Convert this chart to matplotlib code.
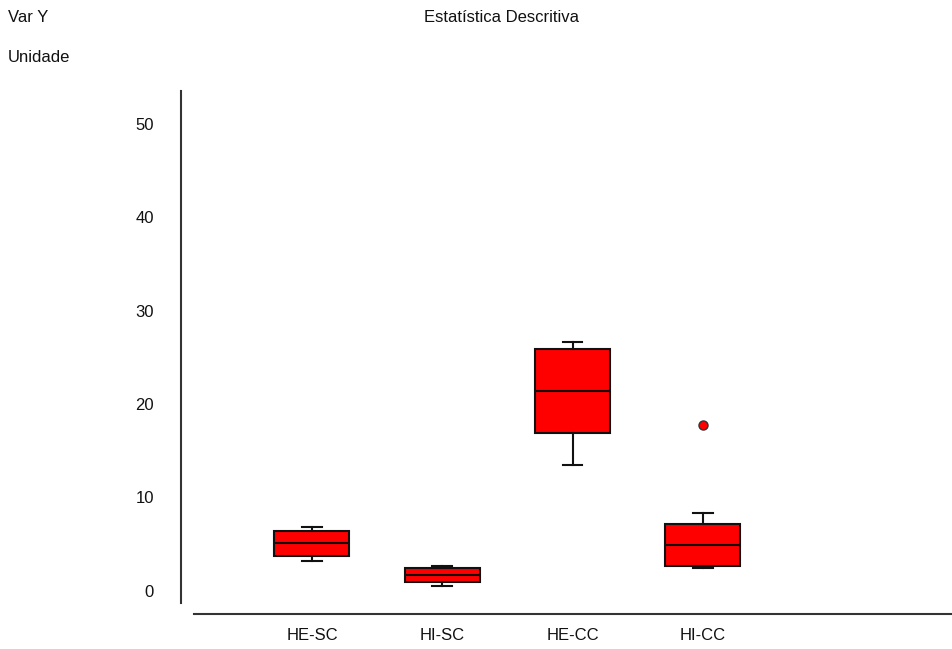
import matplotlib
matplotlib.use("Agg")
import matplotlib.pyplot as plt

categories = ["HE-SC", "HI-SC", "HE-CC", "HI-CC"]
whisker_low = [3.2, 0.55, 13.5, 2.45]
q1 = [3.7, 0.9, 16.85, 2.6]
median = [5.1, 1.65, 21.4, 4.9]
q3 = [6.4, 2.45, 25.9, 7.15]
whisker_high = [6.8, 2.6, 26.6, 8.3]
outliers = [[], [], [], [17.8]]
y_ticks = [0, 10, 20, 30, 40, 50]

plt.rcParams['font.family'] = ['Liberation Sans', 'DejaVu Sans']

fig = plt.figure(figsize=9.52 * 0 + 9.52 if False else (9.52, 6.49), dpi=100)
W, H = 952, 649
ax_left, ax_right = 181, 952
ax_top, ax_bottom = 90.7, 602.7
ax = fig.add_axes([ax_left / W, 1 - ax_bottom / H, (ax_right - ax_left) / W, (ax_bottom - ax_top) / H])

stats = []
for i, c in enumerate(categories):
    stats.append(dict(label=c, whislo=whisker_low[i], q1=q1[i], med=median[i],
                      q3=q3[i], whishi=whisker_high[i], fliers=outliers[i]))

positions = list(range(1, len(categories) + 1))
ax.bxp(stats, positions=positions, widths=0.576, patch_artist=True,
       boxprops=dict(facecolor="#ff0000", edgecolor="#111111", linewidth=1.5),
       medianprops=dict(color="#111111", linewidth=1.5),
       whiskerprops=dict(color="#111111", linewidth=1.5),
       capprops=dict(color="#111111", linewidth=1.5),
       flierprops=dict(marker="o", markerfacecolor="#ff0000", markeredgecolor="#333333",
                       markersize=6.5, markeredgewidth=1.0),
       capwidths=0.15)

ax.set_xlim(-0.005, 5.912)
ax.set_ylim(-1.29, 53.57)
ax.set_yticks(y_ticks)
ax.set_yticklabels([str(t) for t in y_ticks])
ax.set_xticks(positions)
ax.set_xticklabels(categories)
ax.tick_params(axis="y", length=0, pad=19.5, labelsize=12, labelcolor="#111111")
ax.tick_params(axis="x", length=0, pad=10, labelsize=12, labelcolor="#111111")

for s in ["top", "right"]:
    ax.spines[s].set_visible(False)
ax.spines["left"].set_color("#333333")
ax.spines["left"].set_linewidth(1.5)
ax.spines["bottom"].set_color("#333333")
ax.spines["bottom"].set_linewidth(1.5)
ax.spines["bottom"].set_position(("outward", 8.1))
ax.spines["bottom"].set_bounds(0.092, 5.912)

fig.text(8 / W, 1 - 18 / H, "Var Y", fontsize=12, color="#111111", ha="left", va="center")
fig.text(8 / W, 1 - 58 / H, "Unidade", fontsize=12, color="#111111", ha="left", va="center")
fig.text(502 / W, 1 - 18 / H, "Estatística Descritiva", fontsize=12, color="#111111",
         ha="center", va="center")

fig.savefig("out.png", dpi=100, facecolor="white")
